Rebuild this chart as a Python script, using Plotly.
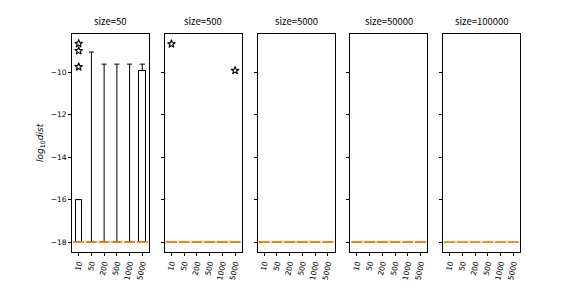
import plotly.graph_objects as go

categories = ["10", "50", "200", "500", "1000", "5000"]
sizes = ["50", "500", "5000", "50000", "100000"]
base_value = -18.0

# panel 1 (size=50) bar tops and error-bar upper ends
bar_tops = [-16.0, -18.0, -18.0, -18.0, -18.0, -9.92]
err_upper_ends = [-16.0, -9.05, -9.62, -9.62, -9.62, -9.62]

# outlier stars per panel: (category, value)
stars = {
    "50": [("10", -8.65), ("10", -8.99), ("10", -9.75)],
    "500": [("10", -8.67), ("5000", -9.92)],
    "5000": [], "50000": [], "100000": [],
}
reference_line = [-18.0] * len(categories)

fig = go.Figure()

# page body adds an 8px offset; compensate in margins
off = 8
plot_left, plot_right = 72, 520
plot_w = plot_right - plot_left
panel_w = 77
step = (plot_w - panel_w) / 4

for i, s in enumerate(sizes):
    xa = "x" if i == 0 else f"x{i+1}"
    ya = "y" if i == 0 else f"y{i+1}"
    if s == "50":
        heights = [t - base_value for t in bar_tops]
        errs = [e - t for e, t in zip(err_upper_ends, bar_tops)]
        fig.add_trace(go.Bar(
            x=categories, y=heights, base=base_value, width=0.5,
            marker=dict(color="white", line=dict(color="black", width=1)),
            error_y=dict(type="data", array=errs, symmetric=False,
                         arrayminus=[0] * len(categories),
                         color="black", thickness=1, width=2.5),
            xaxis=xa, yaxis=ya, showlegend=False,
        ))
    fig.add_trace(go.Scatter(
        x=categories, y=reference_line, mode="markers",
        marker=dict(symbol="line-ew", size=8,
                    line=dict(color="#ff7f0e", width=1.8)),
        xaxis=xa, yaxis=ya, showlegend=False,
    ))
    if stars[s]:
        fig.add_trace(go.Scatter(
            x=[c for c, v in stars[s]], y=[v for c, v in stars[s]],
            mode="markers",
            marker=dict(symbol="star", size=6, color="white",
                        line=dict(color="black", width=1.1)),
            xaxis=xa, yaxis=ya, showlegend=False,
        ))
    x0 = (i * step) / plot_w
    x1 = (i * step + panel_w) / plot_w
    fig.layout[f"xaxis{'' if i == 0 else i+1}"] = dict(
        domain=[x0, x1], anchor=ya, type="category",
        categoryorder="array", categoryarray=categories,
        range=[-0.525, 5.525], showline=True, mirror=True,
        linecolor="black", linewidth=1, ticks="outside", ticklen=3,
        tickcolor="black", tickangle=-78, showgrid=False, zeroline=False,
        tickfont=dict(family="DejaVu Sans", size=7.5, color="black"),
    )
    fig.layout[f"yaxis{'' if i == 0 else i+1}"] = dict(
        anchor=xa, range=[-18.47, -8.2], showline=True, mirror=True,
        linecolor="black", linewidth=1, ticks="outside", ticklen=3,
        tickcolor="black", showgrid=False, zeroline=False,
        tickvals=[-18, -16, -14, -12, -10],
        ticktext=["\u221218", "\u221216", "\u221214", "\u221212", "\u221210"],
        showticklabels=(i == 0),
        tickfont=dict(family="DejaVu Sans", size=7.5, color="black"),
    )
    fig.add_annotation(
        text=f"size={s}", xref="paper", yref="paper",
        x=(x0 + x1) / 2, y=1.0, yshift=4, xanchor="center", yanchor="bottom",
        showarrow=False,
        font=dict(family="Noto Sans CJK SC", size=9.5, color="black"),
    )

fig.add_annotation(
    text="<i>log</i><sub>10</sub><i>dist</i>", xref="paper", yref="paper",
    x=(40 - plot_left) / plot_w, y=0.5, textangle=-90,
    xanchor="center", yanchor="middle", showarrow=False,
    font=dict(family="DejaVu Sans", size=9, color="black"),
)

fig.update_layout(
    width=576, height=288, plot_bgcolor="white", paper_bgcolor="white",
    margin=dict(l=plot_left - off, r=576 - plot_right + off, t=34 - off, b=36 + off),
    bargap=0,
)

fig.write_html("out.html")
